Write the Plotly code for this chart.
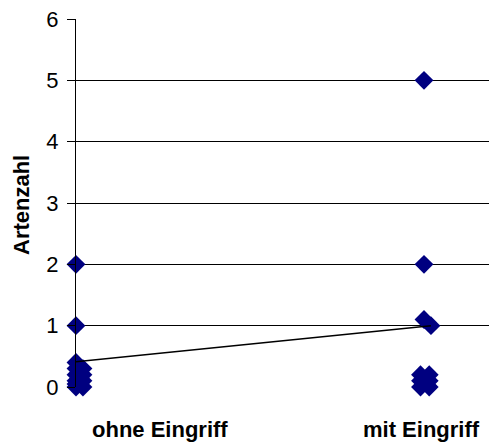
import plotly.graph_objects as go

# Artenzahl je Fläche, ohne und mit Eingriff
ohne_x = [1, 1, 1, 1, 1, 1, 1.02, 1.02, 1.02, 1.02, 1, 1]
ohne_y = [0, 0.1, 0.2, 0.3, 0.4, 0.05, 0, 0.1, 0.2, 0.3, 1, 2]

mit_x = [2, 2, 2, 2.02, 1.99, 1.99, 1.99, 2.015, 2.015, 2.015]
mit_y = [5, 2, 1.1, 1, 0, 0.1, 0.2, 0, 0.1, 0.2]

# Mittelwerte
mittel_x = [1, 2.02]
mittel_y = [0.41, 1.0]

kategorien = ["ohne Eingriff", "mit Eingriff"]
y_ticks = [0, 1, 2, 3, 4, 5, 6]

navy = "#000080"
fig = go.Figure()
fig.add_trace(go.Scatter(x=ohne_x, y=ohne_y, mode="markers",
                         marker=dict(symbol="diamond", size=14.5, color=navy,
                                     line=dict(width=0)),
                         showlegend=False, cliponaxis=False))
fig.add_trace(go.Scatter(x=mit_x, y=mit_y, mode="markers",
                         marker=dict(symbol="diamond", size=14.5, color=navy,
                                     line=dict(width=0)),
                         showlegend=False, cliponaxis=False))
fig.add_trace(go.Scatter(x=mittel_x, y=mittel_y, mode="lines",
                         line=dict(color="black", width=1.5),
                         showlegend=False, cliponaxis=False))

L, R, T, B = 76, 0, 19, 55
W, H = 489, 442
pw = W - L - R
ph = H - T - B

fig.update_layout(
    width=W, height=H,
    margin=dict(l=L, r=R, t=T, b=B),
    paper_bgcolor="white", plot_bgcolor="white",
    font=dict(family="Liberation Sans, Arial, sans-serif", color="black"),
    xaxis=dict(range=[1, 1 + pw / 348], showgrid=False, zeroline=False,
               showline=False, showticklabels=False, ticks=""),
    yaxis=dict(range=[0, 6], tickvals=y_ticks, showgrid=True,
               gridcolor="black", gridwidth=1, zeroline=False,
               showline=True, linecolor="black", linewidth=1,
               ticks="outside", ticklen=8, tickcolor="black",
               tickfont=dict(size=22), ticklabelstandoff=4),
)

label_px = [160, 421]
for name, px in zip(kategorien, label_px):
    fig.add_annotation(text="<b>" + name + "</b>", xref="paper", yref="paper",
                       x=(px - L) / pw, y=-(429 - 387) / ph,
                       xanchor="center", yanchor="middle", showarrow=False,
                       font=dict(size=22))

fig.add_annotation(text="<b>Artenzahl</b>", xref="paper", yref="paper",
                   x=(21 - L) / pw, y=(387 - 205) / ph,
                   xanchor="center", yanchor="middle", textangle=-90,
                   showarrow=False, font=dict(size=22))

fig.write_html("out.html")
